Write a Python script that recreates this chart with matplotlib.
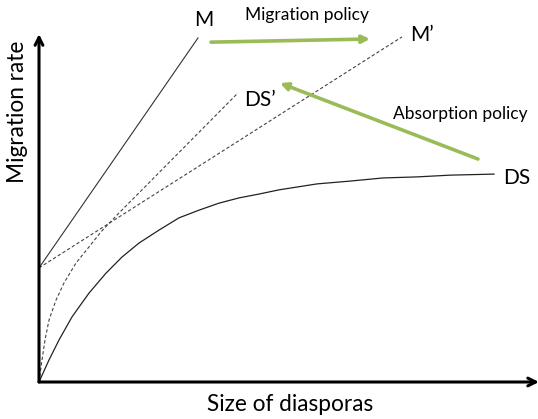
import matplotlib
matplotlib.use("Agg")
import matplotlib.pyplot as plt

plt.rcParams['font.family'] = ['Lato', 'DejaVu Sans']

# curves (x: size of diasporas, y: migration rate, 0-100)
m_x = [0, 31.8]
m_y = [32.6, 98.3]

m2_x = [0, 72.6]
m2_y = [32.6, 98.6]

ds2_x = [0, 0.6, 1.2, 2.0, 3.4, 5.0, 7.4, 10.0, 12.4, 16.0, 20.6, 39.8]
ds2_y = [0, 6.3, 12.0, 17.7, 23.4, 28.3, 34.0, 38.6, 42.9, 48.3, 54.9, 82.6]

ds_x = [0, 2.0, 4.0, 6.6, 10.0, 13.4, 16.6, 20.0, 24.0, 28.0, 32.0, 36.0,
        40.0, 44.0, 48.0, 55.6, 62.2, 68.8, 75.6, 82.2, 91.0]
ds_y = [0, 6.3, 12.0, 18.6, 25.4, 31.1, 35.7, 39.7, 43.4, 46.9, 49.1, 51.1,
        52.6, 53.7, 54.9, 56.6, 57.4, 58.3, 58.6, 59.1, 59.4]

# policy shifts (tail -> head)
mig_arrow = [(34.4, 97.1), (66.2, 98.0)]
abs_arrow = [(87.8, 63.7), (48.2, 85.4)]

labels = ["M", "M\u2019", "DS\u2019", "DS"]
label_pos = [(33.0, 103.4), (76.6, 99.1), (44.2, 80.6), (95.6, 58.3)]
GREEN = '#9BBB59'

fig = plt.figure(figsize=(5.38, 4.19), dpi=100)
ax = fig.add_axes([39/538, 37/419, 500/538, 350/419])
ax.set_xlim(0, 100)
ax.set_ylim(0, 100)
ax.axis('off')

ax.plot(m_x, m_y, color='#333333', lw=0.8, clip_on=False)
ax.plot(m2_x, m2_y, color='#444444', lw=0.8, dashes=(3, 2), clip_on=False)
ax.plot(ds2_x, ds2_y, color='#444444', lw=0.8, dashes=(3, 2), clip_on=False)
ax.plot(ds_x, ds_y, color='#222222', lw=0.9, clip_on=False)

# axes with arrow heads
ax.annotate('', xy=(100, 0), xytext=(0, 0),
            arrowprops=dict(arrowstyle='->', lw=2.2, color='black',
                            mutation_scale=14, shrinkA=0, shrinkB=0),
            annotation_clip=False)
ax.annotate('', xy=(0, 99.4), xytext=(0, 0),
            arrowprops=dict(arrowstyle='->', lw=2.2, color='black',
                            mutation_scale=14, shrinkA=0, shrinkB=0),
            annotation_clip=False)

for tail, head in (mig_arrow, abs_arrow):
    ax.annotate('', xy=head, xytext=tail,
                arrowprops=dict(arrowstyle='-|>', lw=2.6, color=GREEN,
                                mutation_scale=11, shrinkA=0, shrinkB=0),
                annotation_clip=False)

for lab, (x, y) in zip(labels, label_pos):
    ax.text(x, y, lab, fontsize=15, ha='center', va='center', clip_on=False)

ax.text(53.6, 104.9, "Migration policy", fontsize=12.5, ha='center', va='center')
ax.text(84.2, 76.6, "Absorption policy", fontsize=12.5, ha='center', va='center')
ax.text(50.2, -6.4, "Size of diasporas", fontsize=16.3, ha='center', va='center')
ax.text(-4.3, 77.1, "Migration rate", fontsize=16.3, ha='center', va='center',
        rotation=90)

fig.savefig("out.png", dpi=100)
